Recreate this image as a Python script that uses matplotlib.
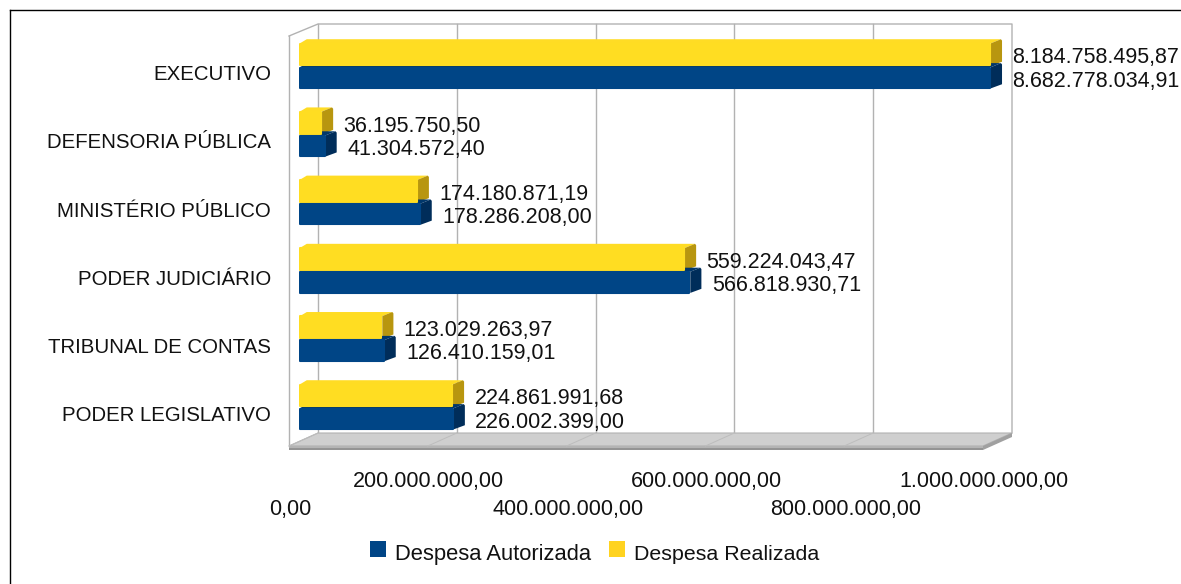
import matplotlib
matplotlib.use("Agg")
from matplotlib import pyplot as plt
from matplotlib.patches import Polygon, Rectangle
from matplotlib.transforms import ScaledTranslation

categorias = ["PODER LEGISLATIVO", "TRIBUNAL DE CONTAS", "PODER JUDICIÁRIO",
              "MINISTÉRIO PÚBLICO", "DEFENSORIA PÚBLICA", "EXECUTIVO"]
autorizada = [226002399.00, 126410159.01, 566818930.71,
              178286208.00, 41304572.40, 8682778034.91]
realizada = [224861991.68, 123029263.97, 559224043.47,
             174180871.19, 36195750.50, 8184758495.87]
ticks = [0, 200000000, 400000000, 600000000, 800000000, 1000000000]
tick_labels = ["0,00", "200.000.000,00", "400.000.000,00", "600.000.000,00",
               "800.000.000,00", "1.000.000.000,00"]

W, H = 1181, 584
plt.rcParams["font.family"] = ["Liberation Sans", "DejaVu Sans"]
fig = plt.figure(figsize=(W / 100, H / 100), dpi=100)

# canvas em pixels para moldura, parede e chao
bg = fig.add_axes([0, 0, 1, 1], zorder=0)
bg.set_xlim(0, W)
bg.set_ylim(H, 0)
bg.axis("off")
bg.plot([9.5, W], [9.5, 9.5], color="black", lw=1)
bg.plot([9.5, 9.5], [9.5, H], color="black", lw=1)

grid = "#b2b2b2"
bg.plot([289, 289], [36, 446], color=grid, lw=1)
bg.plot([289, 318, 1012, 1012], [36, 24, 24, 433], color=grid, lw=1)
for t in ticks[:-1]:
    x = 318 + t * 0.694e-6
    bg.plot([x, x], [24, 433], color=grid, lw=1)
    bg.plot([x, x - 29], [433, 446], color="#bdbdbd", lw=0.7, zorder=3)
bg.add_patch(Polygon([(289, 446), (318, 433), (1012, 433), (983, 446)],
                     facecolor="#cfcfcf", edgecolor="#b2b2b2", lw=0.8, zorder=2))
bg.add_patch(Polygon([(289, 446), (983, 446), (983, 448), (289, 448)],
                     facecolor="#b4b4b4", edgecolor="none", zorder=2))
bg.add_patch(Polygon([(289, 448), (983, 448), (983, 450), (289, 450)],
                     facecolor="#949494", edgecolor="none", zorder=2))
bg.add_patch(Polygon([(983, 446), (1012, 433), (1012, 437), (983, 450)],
                     facecolor="#a0a0a0", edgecolor="none", zorder=2))

# eixo das barras: x=0 em 299px, 1e9 em 993px
ax = fig.add_axes([299 / W, 1 - 441.6 / H, 694 / W, 409.2 / H], zorder=1)
ax.patch.set_alpha(0)
ax.set_xlim(0, 1e9)
ax.set_ylim(-0.5, 5.5)
for s in ax.spines.values():
    s.set_visible(False)
ax.set_xticks([])
ax.set_yticks(range(len(categorias)))
ax.set_yticklabels(categorias, fontsize=14.7, color="#111111")
ax.tick_params(axis="y", length=0, pad=20)
# rotulos das categorias ficam um pouco abaixo do centro da barra
desce = ScaledTranslation(0, -4.5 / 72, fig.dpi_scale_trans)
for lb in ax.get_yticklabels():
    lb.set_transform(lb.get_transform() + desce)

h_azul = 0.33
h_amar = 0.35
dx = 16e6
dy = 0.05
recuo = 3e6
borda = 1.4e6


def barra(v, y0, h, cor, topo, lado):
    val = min(v, 1e9)
    ax.barh(y0 + h / 2, val - recuo - 2 * borda, height=h - 0.03, left=borda, color=cor,
            edgecolor=cor, linewidth=1.5, joinstyle="round", zorder=4)
    ax.add_patch(Polygon([(borda, y0 + h - 0.01), (dx * 0.7, y0 + h + dy), (val - recuo + dx * 0.9, y0 + h + dy),
                          (val - recuo, y0 + h - 0.01)],
                         facecolor=topo, edgecolor="none", zorder=3, clip_on=False))
    ax.add_patch(Polygon([(val - recuo, y0 + 0.01), (val - recuo + dx, y0 + dy + 0.02),
                          (val - recuo + dx, y0 + h + dy - 0.02), (val - recuo + dx * 0.9, y0 + h + dy),
                          (val - recuo, y0 + h - 0.01)],
                         facecolor=lado, edgecolor="none", zorder=3, clip_on=False, joinstyle="round"))


for i in range(len(categorias)):
    barra(realizada[i], i, h_amar, "#ffdd22", "#ffdc24", "#b8960f")
    barra(autorizada[i], i - h_azul, h_azul, "#004586", "#00376b", "#002d5a")
    txt_a = f"{autorizada[i]:,.2f}".replace(",", "X").replace(".", ",").replace("X", ".")
    txt_r = f"{realizada[i]:,.2f}".replace(",", "X").replace(".", ",").replace("X", ".")
    xa = min(autorizada[i], 1e9) + 28e6
    xr = min(realizada[i], 1e9) + 28e6
    ax.text(xa, i - 0.215, txt_a, fontsize=15.5, va="center", ha="left", color="#111111", clip_on=False)
    ax.text(xr, i + 0.125, txt_r, fontsize=15.5, va="center", ha="left", color="#111111", clip_on=False)

# rotulos do eixo x alternados em duas linhas
for i, t in enumerate(ticks):
    x = 290 + t * 0.694e-6 if i else 290
    y = 481 if i % 2 else 510
    bg.text(x, y, tick_labels[i], fontsize=15.5, ha="center", va="center", color="#111111")

# legenda
bg.add_patch(Rectangle((370, 541), 16, 16, color="#004586", lw=0))
bg.text(395, 560, "Despesa Autorizada", fontsize=15.8, va="baseline", color="#111111")
bg.add_patch(Rectangle((609, 541), 16, 16, color="#ffd320", lw=0))
bg.text(634, 560, "Despesa Realizada", fontsize=15.4, va="baseline", color="#111111")

fig.savefig("out.png", dpi=100)
